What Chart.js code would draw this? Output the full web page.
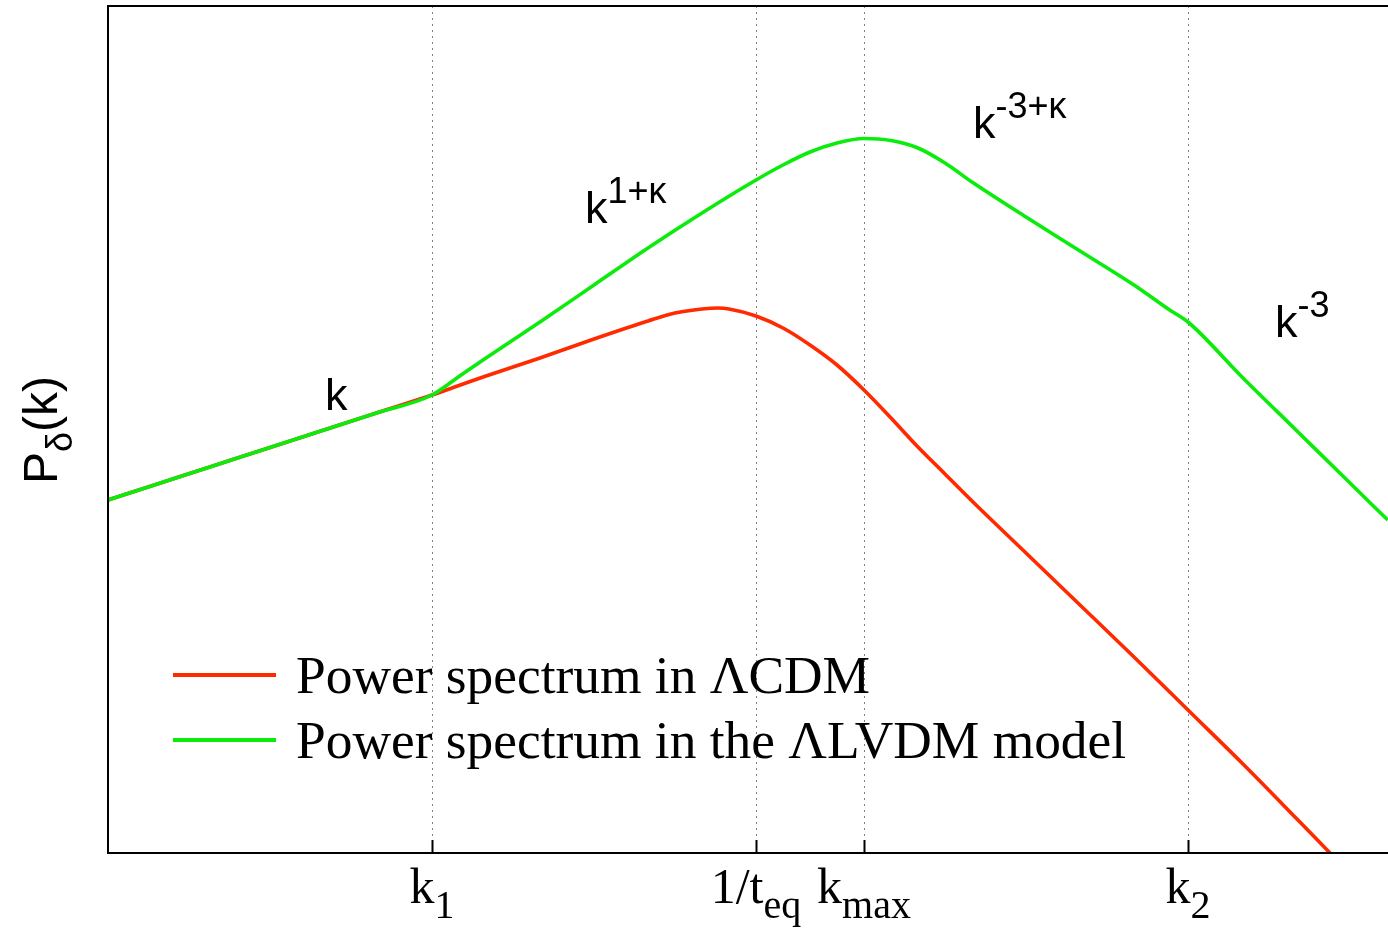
<!DOCTYPE html>
<html>
<head>
<meta charset="utf-8">
<title>P_δ(k)</title>
<script src="https://cdn.jsdelivr.net/npm/chart.js@4.4.0/dist/chart.umd.min.js"></script>
<style>
  html, body { margin: 0; padding: 0; background: #ffffff; }
  #wrap { width: 1388px; height: 929px; }
</style>
</head>
<body>
<div id="wrap"><canvas id="c" width="1388" height="929"></canvas></div>
<script>
// Wavenumber (log scale, arbitrary units) and log power for each model
const lcdmK = [0, 0.5, 1, 1.5, 2, 2.5, 3, 3.25, 3.5, 4, 4.5, 5, 5.25, 5.5, 5.65, 5.75, 6, 6.25, 6.5, 6.75, 7, 7.25, 7.5, 7.75, 8, 8.5, 9, 9.5, 10, 10.5, 11, 11.315];
const lcdmP = [3.53, 3.705, 3.88, 4.055, 4.23, 4.405, 4.58, 4.675, 4.77, 4.95, 5.14, 5.32, 5.40, 5.44, 5.45, 5.44, 5.37, 5.25, 5.08, 4.88, 4.63, 4.35, 4.06, 3.79, 3.52, 3.00, 2.48, 1.96, 1.43, 0.90, 0.35, 0];

const lvdmK = [0, 0.5, 1, 1.5, 2, 2.5, 3, 3.25, 3.5, 4, 4.5, 5, 5.5, 6, 6.25, 6.5, 6.75, 7, 7.25, 7.5, 7.75, 8, 8.5, 9, 9.5, 9.83, 10, 10.5, 11, 11.5, 11.85];
const lvdmP = [3.53, 3.705, 3.88, 4.055, 4.23, 4.405, 4.58, 4.765, 4.95, 5.31, 5.68, 6.05, 6.40, 6.73, 6.88, 7.01, 7.10, 7.145, 7.125, 7.05, 6.90, 6.71, 6.36, 6.02, 5.68, 5.43, 5.31, 4.76, 4.23, 3.70, 3.33];

// Characteristic scales marked on the k axis
const tickValues = [3, 6, 7, 10];
const tickBase = ['k', '1/t', 'k', 'k'];
const tickSub = ['1', 'eq', 'max', '2'];

// Slope labels for each regime
const slopeBase = ['k', 'k', 'k', 'k'];
const slopeSup = ['', '1+\u03BA', '-3+\u03BA', '-3'];
const slopeAtK = [2.009, 4.417, 8.009, 10.806];
const slopeAtP = [4.43, 6.30, 7.15, 5.16];

const seriesNames = ['Power spectrum in \u039BCDM', 'Power spectrum in the \u039BLVDM model'];
const seriesColors = ['#ff2a00', '#0cec0c'];

const SANS = '"Liberation Sans", Arial, Helvetica, sans-serif';
const SERIF = '"Liberation Serif", "Times New Roman", Times, serif';

function pairs(xs, ys) { return xs.map((x, i) => ({ x: x, y: ys[i] })); }

// base text followed by a raised/lowered script
function drawScripted(ctx, x, y, base, script, baseFont, scriptFont, dy, center) {
  ctx.font = baseFont;
  const wb = ctx.measureText(base).width;
  ctx.font = scriptFont;
  const ws = script ? ctx.measureText(script).width : 0;
  const x0 = center ? x - (wb + ws) / 2 : x;
  ctx.font = baseFont;
  ctx.fillText(base, x0, y);
  if (script) {
    ctx.font = scriptFont;
    ctx.fillText(script, x0 + wb, y + dy);
  }
}

const frame = {
  id: 'frame',
  beforeDatasetsDraw(chart) {
    const { ctx, chartArea: a, scales: { x } } = chart;
    ctx.save();
    ctx.strokeStyle = '#808080';
    ctx.lineWidth = 1;
    ctx.setLineDash([2, 4]);
    tickValues.forEach(v => {
      const px = Math.round(x.getPixelForValue(v)) + 0.5;
      ctx.beginPath();
      ctx.moveTo(px, a.top);
      ctx.lineTo(px, a.bottom);
      ctx.stroke();
    });
    ctx.restore();
  },
  afterDatasetsDraw(chart) {
    const { ctx, chartArea: a, scales: { x, y } } = chart;
    ctx.save();
    // axes box (open on the right)
    ctx.strokeStyle = '#000';
    ctx.lineWidth = 2;
    ctx.beginPath();
    ctx.moveTo(a.right + 4, a.top);
    ctx.lineTo(a.left, a.top);
    ctx.lineTo(a.left, a.bottom);
    ctx.lineTo(a.right + 4, a.bottom);
    ctx.stroke();
    // inward tick marks
    tickValues.forEach(v => {
      const px = Math.round(x.getPixelForValue(v)) + 0.5;
      ctx.beginPath();
      ctx.moveTo(px, a.bottom);
      ctx.lineTo(px, a.bottom - 13);
      ctx.stroke();
    });

    ctx.fillStyle = '#000';
    ctx.textAlign = 'left';
    ctx.textBaseline = 'alphabetic';

    // tick labels with subscripts
    tickValues.forEach((v, i) => {
      drawScripted(ctx, x.getPixelForValue(v), a.bottom + 50, tickBase[i], tickSub[i],
        '50px ' + SERIF, '40px ' + SERIF, 15, true);
    });

    // slope labels
    slopeBase.forEach((b, i) => {
      drawScripted(ctx, x.getPixelForValue(slopeAtK[i]), y.getPixelForValue(slopeAtP[i]), b, slopeSup[i],
        '45px ' + SANS, '36px ' + SANS, -20, false);
    });

    // y-axis title
    ctx.save();
    ctx.translate(57, 484);
    ctx.rotate(-Math.PI / 2);
    drawScripted(ctx, 0, 0, 'P', '\u03B4', '48px ' + SANS, '36px ' + SANS, 15, false);
    ctx.font = '48px ' + SANS;
    const wP = ctx.measureText('P').width;
    ctx.font = '36px ' + SANS;
    const wd = ctx.measureText('\u03B4').width;
    ctx.font = '48px ' + SANS;
    ctx.fillText('(k)', wP + wd, 0);
    ctx.restore();

    // key
    chart.data.datasets.forEach((ds, i) => {
      const cy = 675 + i * 65;
      ctx.strokeStyle = ds.borderColor;
      ctx.lineWidth = 4;
      ctx.setLineDash([]);
      ctx.beginPath();
      ctx.moveTo(173, cy);
      ctx.lineTo(276, cy);
      ctx.stroke();
      ctx.fillStyle = '#000';
      ctx.font = '53.4px ' + SERIF;
      ctx.fillText(ds.label, 296, cy + 18);
    });
    ctx.restore();
  }
};

new Chart(document.getElementById('c'), {
  type: 'line',
  data: {
    datasets: [
      { label: seriesNames[0], data: pairs(lcdmK, lcdmP), borderColor: seriesColors[0], borderWidth: 3.6,
        pointRadius: 0, cubicInterpolationMode: 'monotone', fill: false, order: 1 },
      { label: seriesNames[1], data: pairs(lvdmK, lvdmP), borderColor: seriesColors[1], borderWidth: 3.6,
        pointRadius: 0, cubicInterpolationMode: 'monotone', fill: false, order: 0 }
    ]
  },
  options: {
    responsive: false,
    animation: false,
    events: [],
    layout: { padding: { left: 108, top: 6, right: 0, bottom: 76 } },
    scales: {
      x: { type: 'linear', min: 0, max: 11.852, display: false },
      y: { type: 'linear', min: 0, max: 8.47, display: false }
    },
    plugins: { legend: { display: false }, tooltip: { enabled: false } }
  },
  plugins: [frame]
});
</script>
</body>
</html>
